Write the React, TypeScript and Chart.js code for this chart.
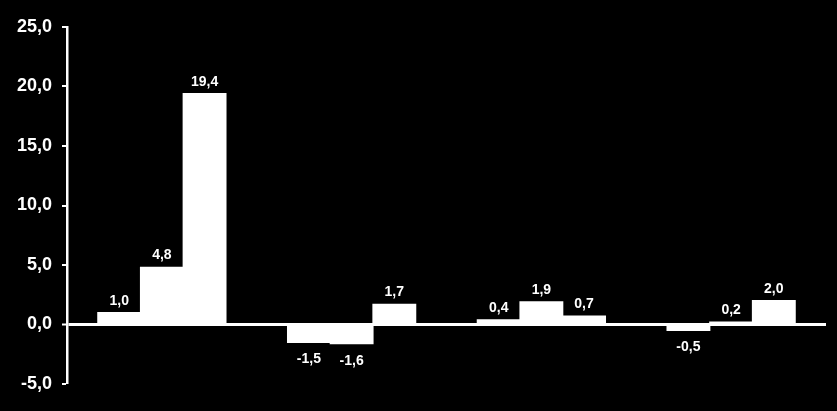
import { useEffect, useRef } from 'react'
import { Chart, registerables } from 'chart.js'

Chart.register(...registerables)

const CATEGORIES = ['Grupo 1', 'Grupo 2', 'Grupo 3', 'Grupo 4']
const SERIES_A = [1.0, -1.5, 0.4, -0.5]
const SERIES_B = [4.8, -1.6, 1.9, 0.2]
const SERIES_C = [19.4, 1.7, 0.7, 2.0]
const SERIES_NAMES = ['Serie 1', 'Serie 2', 'Serie 3']

const FONT = '"Liberation Sans", Arial, sans-serif'

const fmt = (v: number) => v.toFixed(1).replace('.', ',')

// draws the value above positive bars and below negative ones
const valueLabels = {
  id: 'valueLabels',
  afterDatasetsDraw(chart: Chart) {
    const ctx = chart.ctx
    ctx.save()
    ctx.fillStyle = '#ffffff'
    ctx.font = `bold 14px ${FONT}`
    ctx.textAlign = 'center'
    ctx.textBaseline = 'alphabetic'
    chart.data.datasets.forEach((ds, i) => {
      const meta = chart.getDatasetMeta(i)
      meta.data.forEach((bar: any, j) => {
        const v = ds.data[j] as number
        if (v >= 0) {
          ctx.fillText(fmt(v), bar.x, bar.y - 8)
        } else {
          ctx.fillText(fmt(v), bar.x, bar.y + 21)
        }
      })
    })
    ctx.restore()
  },
}

export default function App() {
  const ref = useRef<HTMLCanvasElement>(null)
  const chart = useRef<Chart | null>(null)

  useEffect(() => {
    if (!ref.current) return
    chart.current?.destroy()

    const datasets = [SERIES_A, SERIES_B, SERIES_C].map((data, i) => ({
      label: SERIES_NAMES[i],
      data,
      backgroundColor: '#ffffff',
      borderWidth: 0,
      inflateAmount: 0.6,
      categoryPercentage: 0.675,
      barPercentage: 1,
    }))

    chart.current = new Chart(ref.current, {
      type: 'bar',
      data: { labels: CATEGORIES, datasets },
      plugins: [valueLabels],
      options: {
        animation: false,
        responsive: false,
        maintainAspectRatio: false,
        layout: { padding: { top: 27, bottom: 27, left: 0, right: 11 } },
        plugins: {
          legend: { display: false },
          tooltip: { enabled: false },
        },
        scales: {
          x: { display: false },
          y: {
            min: -5,
            max: 25,
            afterFit: (scale: any) => {
              scale.width = 67
            },
            border: { display: true, color: '#ffffff', width: 2.5 },
            grid: {
              color: (c: any) => (c.tick && c.tick.value === 0 ? '#ffffff' : 'transparent'),
              lineWidth: (c: any) => (c.tick && c.tick.value === 0 ? 3 : 0),
              tickColor: '#ffffff',
              tickWidth: 2,
              tickLength: 5,
            },
            ticks: {
              stepSize: 5,
              color: '#ffffff',
              padding: 10,
              font: { family: FONT, size: 18, weight: 'bold' },
              callback: (v: any) => fmt(Number(v)),
            },
          },
        },
      },
    })

    return () => chart.current?.destroy()
  }, [])

  return (
    <div
      style={{
        position: 'absolute',
        left: 0,
        top: 0,
        width: 837,
        height: 411,
        background: '#000000',
      }}
    >
      <canvas ref={ref} width={837} height={411} style={{ width: 837, height: 411 }} />
    </div>
  )
}
